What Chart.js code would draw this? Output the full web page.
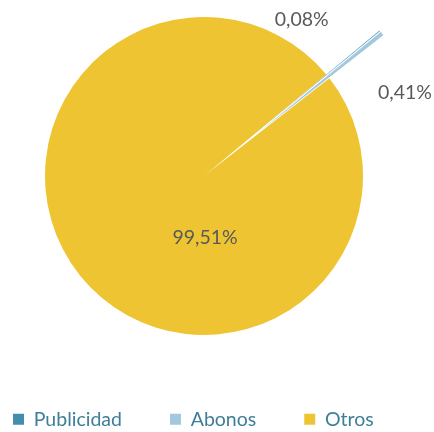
<!DOCTYPE html>
<html>
<head>
<meta charset="utf-8">
<script src="https://cdn.jsdelivr.net/npm/chart.js@4/dist/chart.umd.min.js"></script>
<style>
  body { margin: 0; background: #fff; }
  #wrap { width: 434px; height: 432px; position: relative; }
</style>
</head>
<body>
<div id="wrap"><canvas id="pieChart"></canvas></div>
<script>
const categories = ["Publicidad", "Abonos", "Otros"];
const shares = [0.08, 0.41, 99.51]; // percent
const sliceColors = ["#438DAD", "#A2C7DE", "#EEC432"];

const formatPct = (v) => v.toFixed(2).replace(".", ",") + "%";

// nudge the plot area so the pie sits left of the legend's centre, like the original
const frameShift = {
  id: "frameShift",
  afterLayout(chart, args, opts) {
    const a = chart.chartArea;
    a.left += opts.dx;
    a.right += opts.dx;
    a.top += opts.dy;
    a.bottom += opts.dy;
  },
};

// pull the small slices out of the pie (chart.js "offset" squeezes thin arcs to nothing)
const explodeSlices = {
  id: "explodeSlices",
  afterDatasetUpdate(chart, args, opts) {
    args.meta.data.forEach((arc, i) => {
      const d = opts.distance[i] || 0;
      if (!d) return;
      const mid = (arc.startAngle + arc.endAngle) / 2;
      arc.x += Math.cos(mid) * d;
      arc.y += Math.sin(mid) * d;
    });
  },
};

// draws the percentage next to each slice, placed relative to the pie centre
const pieLabels = {
  id: "pieLabels",
  afterDatasetsDraw(chart, args, opts) {
    const ctx = chart.ctx;
    const area = chart.chartArea;
    const cx = (area.left + area.right) / 2;
    const cy = (area.top + area.bottom) / 2;
    const meta = chart.getDatasetMeta(0);
    ctx.save();
    ctx.font = opts.font;
    ctx.fillStyle = opts.color;
    ctx.textAlign = "center";
    ctx.textBaseline = "middle";
    meta.data.forEach((arc, i) => {
      const spot = opts.spots[i];
      const a = ((spot.angle - 90) * Math.PI) / 180;
      const r = arc.outerRadius * spot.dist;
      ctx.fillText(formatPct(shares[i]), cx + Math.cos(a) * r, cy + Math.sin(a) * r);
    });
    ctx.restore();
  },
};

new Chart(document.getElementById("pieChart"), {
  type: "pie",
  data: {
    labels: categories,
    datasets: [
      {
        data: shares,
        backgroundColor: sliceColors,
        borderWidth: 0,
        clip: false,
      },
    ],
  },
  options: {
    responsive: true,
    maintainAspectRatio: false,
    animation: false,
    events: [],
    radius: 159,
    rotation: 50.3,
    layout: {
      padding: { left: -35, right: 0, top: 0, bottom: -7 },
    },
    plugins: {
      tooltip: { enabled: false },
      legend: {
        position: "bottom",
        align: "start",
        labels: {
          boxWidth: 11,
          boxHeight: 11,
          padding: 48,
          color: "#3E7E99",
          font: { family: "Lato", size: 19.5 },
        },
      },
      frameShift: { dx: -13, dy: -4.75 },
      explodeSlices: { distance: [69, 69, 0] },
      pieLabels: {
        font: "19.5px Lato",
        color: "#595959",
        spots: [
          { angle: 32.1, dist: 1.157 },
          { angle: 67.4, dist: 1.369 },
          { angle: 179, dist: 0.39 },
        ],
      },
    },
  },
  plugins: [frameShift, explodeSlices, pieLabels],
});
</script>
</body>
</html>
